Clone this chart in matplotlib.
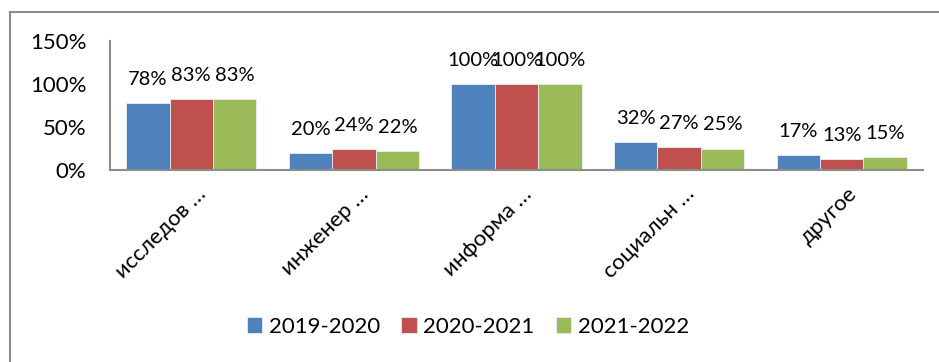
import numpy as np
import matplotlib
matplotlib.use("Agg")
import matplotlib.pyplot as plt
import matplotlib.transforms as mtransforms
from matplotlib.patches import Rectangle

plt.rcParams["font.family"] = ["Lato", "DejaVu Sans"]

# -----------------------------
# Data
# -----------------------------
categories = ["исследов …", "инженер …", "информа …", "социальн …", "другое"]
years = ["2019-2020", "2020-2021", "2021-2022"]
share_2019 = [78, 20, 100, 32, 17]
share_2020 = [83, 24, 100, 27, 13]
share_2021 = [83, 22, 100, 25, 15]
colors = ["#4F81BD", "#C0504D", "#9BBB59"]

series = [share_2019, share_2020, share_2021]

# -----------------------------
# Figure
# -----------------------------
fig = plt.figure(figsize=(9.39, 3.62), dpi=100)
W, H = 939, 362

# outer chart frame
fig.patches.append(Rectangle((10 / W, -0.1), 1.2, 1.1 - 12 / H,
                             transform=fig.transFigure, fill=False,
                             edgecolor="#8c8c8c", linewidth=1.5))

ax = fig.add_axes([110 / W, 1 - 170 / H, (923 - 110) / W, (170 - 41) / H])

x = np.arange(len(categories))
width = 0.267

for i, (vals, year, col) in enumerate(zip(series, years, colors)):
    pos = x + (i - 1) * width
    bars = ax.bar(pos, vals, width, color=col, edgecolor="#e8eef4",
                  linewidth=0.6, label=year)
    for b, v in zip(bars, vals):
        ax.annotate(f"{v}%", (b.get_x() + b.get_width() / 2, v),
                    xytext=(0, 17), textcoords="offset points",
                    ha="center", va="center", fontsize=14.5)

ax.set_xlim(-0.5, len(categories) - 0.5)
ax.set_ylim(0, 150)
ax.set_yticks([0, 50, 100, 150])
ax.set_yticklabels(["0%", "50%", "100%", "150%"], fontsize=16)
ax.set_xticks(x)
ax.set_xticklabels(categories, rotation=45, ha="right",
                   rotation_mode="anchor", fontsize=16)
ax.tick_params(axis="x", length=0, pad=10)
ax.tick_params(axis="y", length=0, pad=17)

# nudge rotated category labels to the right
shift = mtransforms.ScaledTranslation(5 / 100, 0, fig.dpi_scale_trans)
for lbl in ax.get_xticklabels():
    lbl.set_transform(lbl.get_transform() + shift)

for side in ["top", "right"]:
    ax.spines[side].set_visible(False)
for side in ["left", "bottom"]:
    ax.spines[side].set_color("#8c8c8c")
    ax.spines[side].set_linewidth(1.5)

ax.legend(loc="center", bbox_to_anchor=(468 / W, 1 - 327 / H),
          bbox_transform=fig.transFigure, ncol=3, frameon=False,
          fontsize=16, handlelength=0.7, handleheight=0.7,
          handletextpad=0.3, columnspacing=0.95)

fig.savefig("out.png", dpi=100)
